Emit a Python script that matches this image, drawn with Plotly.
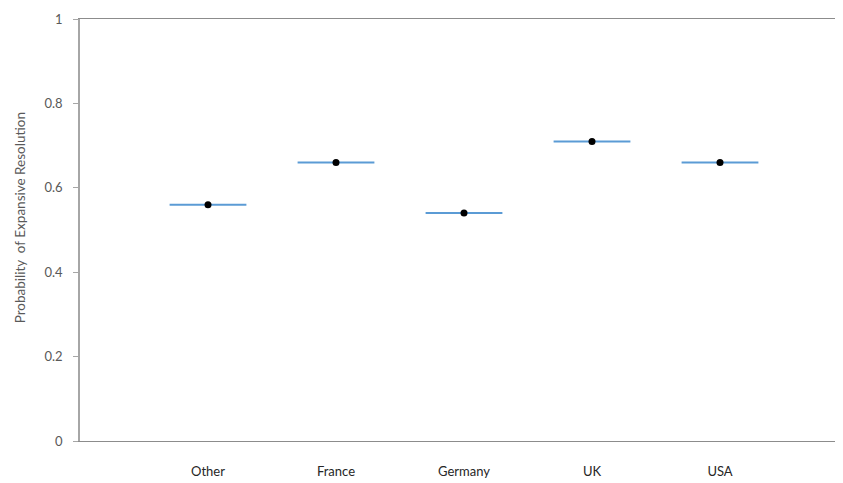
import plotly.graph_objects as go

categories = ["Other", "France", "Germany", "UK", "USA"]
probabilities = [0.56, 0.66, 0.54, 0.71, 0.66]
y_ticks = [0, 0.2, 0.4, 0.6, 0.8, 1]
y_tick_labels = ["0", "0.2", "0.4", "0.6", "0.8", "1"]
y_title = "Probability  of Expansive Resolution"

positions = list(range(1, len(categories) + 1))

fig = go.Figure()
fig.add_trace(go.Scatter(
    x=positions, y=probabilities, mode="markers",
    marker=dict(color="black", size=7),
    error_x=dict(type="constant", value=0.3, width=0, color="#5b9bd5", thickness=2),
    showlegend=False, hoverinfo="skip",
))

fam = "Lato, Open Sans, sans-serif"
fig.update_layout(
    width=843, height=483,
    margin=dict(l=72, r=3, t=7, b=50),
    paper_bgcolor="white", plot_bgcolor="white",
    font=dict(family=fam, size=13, color="#595959"),
    xaxis=dict(
        range=[0, 6], tickvals=positions, ticktext=categories,
        showgrid=False, zeroline=False, showline=True, mirror=True,
        linecolor="#8c8c8c", linewidth=1.3, ticks="", ticklabelstandoff=18,
        tickfont=dict(family=fam, size=13, color="#262626"),
    ),
    yaxis=dict(
        range=[0, 1], tickvals=y_ticks, ticktext=y_tick_labels,
        showgrid=False, zeroline=False, showline=True,
        linecolor="#a6a6a6", linewidth=1.5, ticks="outside", ticklen=5,
        tickcolor="#a6a6a6", ticklabelstandoff=8, ticklabeloverflow="allow",
    ),
    annotations=[dict(
        text=y_title, textangle=-90, xref="paper", yref="paper",
        x=-0.078, y=0.528, xanchor="center", yanchor="middle", showarrow=False,
        font=dict(family=fam, size=13.5, color="#595959"),
    )],
)

fig.write_html("out.html")
